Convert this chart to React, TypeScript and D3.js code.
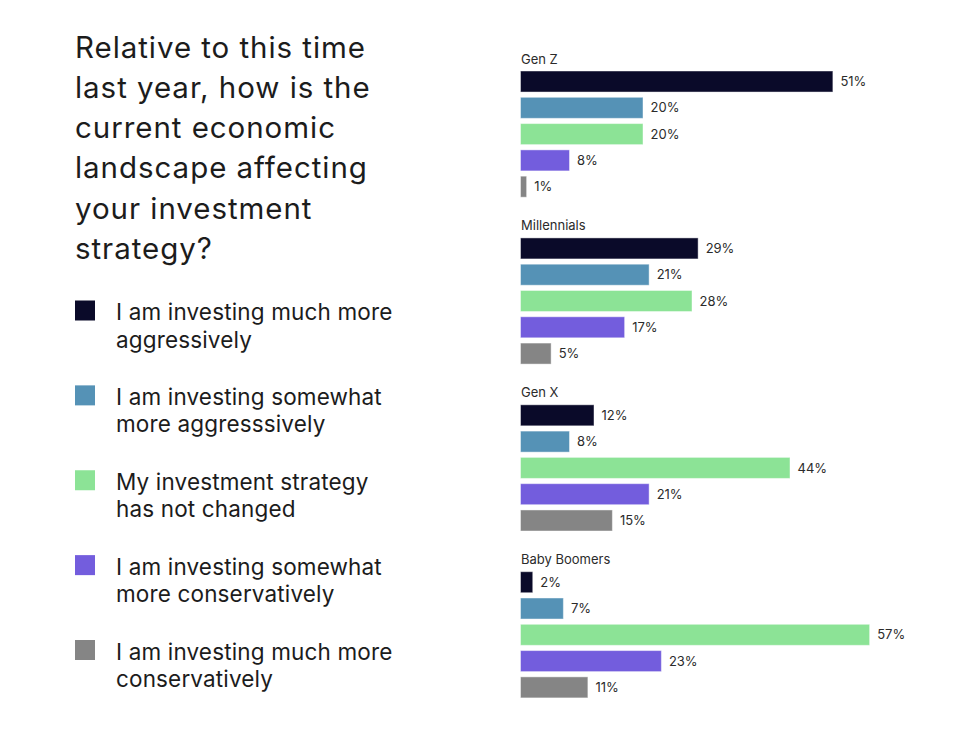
import { useEffect, useRef } from "react";
import * as d3 from "d3";

const WIDTH = 968;
const HEIGHT = 732;

const TITLE_LINES = [
    "Relative to this time",
    "last year, how is the",
    "current economic",
    "landscape affecting",
    "your investment",
    "strategy?",
];

const RESPONSES = [
    "I am investing much more aggressively",
    "I am investing somewhat more aggresssively",
    "My investment strategy has not changed",
    "I am investing somewhat more conservatively",
    "I am investing much more conservatively",
];

const LEGEND_LINES = [
    [ "I am investing much more", "aggressively" ],
    [ "I am investing somewhat", "more aggresssively" ],
    [ "My investment strategy", "has not changed" ],
    [ "I am investing somewhat", "more conservatively" ],
    [ "I am investing much more", "conservatively" ],
];

const COLORS = [ "#0a0a29", "#5592b6", "#8ce396", "#735ddd", "#858585" ];

const GENERATIONS = [ "Gen Z", "Millennials", "Gen X", "Baby Boomers" ];

const GEN_Z = [ 51, 20, 20, 8, 1 ];
const MILLENNIALS = [ 29, 21, 28, 17, 5 ];
const GEN_X = [ 12, 8, 44, 21, 15 ];
const BABY_BOOMERS = [ 2, 7, 57, 23, 11 ];

const SERIES = [ GEN_Z, MILLENNIALS, GEN_X, BABY_BOOMERS ];

const FONT = "Inter, 'Noto Sans', sans-serif";

export default function App ()
{
    const svgRef = useRef<SVGSVGElement>( null );

    useEffect( () =>
    {
        if ( !svgRef.current ) return;
        const svg = d3.select( svgRef.current );
        svg.selectAll( "*" ).remove();

        svg.append( "rect" ).attr( "width", WIDTH ).attr( "height", HEIGHT ).attr( "fill", "#fff" );

        // Title
        const title = svg.append( "text" )
            .attr( "fill", "#1c1c1c" ).style( "font-family", FONT ).style( "font-size", "29.5px" )
            .style( "letter-spacing", "0.95px" );
        TITLE_LINES.forEach( ( line, i ) =>
        {
            title.append( "tspan" ).attr( "x", 75 ).attr( "y", 57.5 + i * 40.3 ).text( line );
        } );

        // Legend
        const legendY = d3.scaleLinear().domain( [ 0, 4 ] ).range( [ 300.5, 640 ] );
        const legend = svg.append( "g" );
        RESPONSES.forEach( ( _, i ) =>
        {
            const y = legendY( i );
            legend.append( "rect" ).attr( "x", 75 ).attr( "y", y ).attr( "width", 20 ).attr( "height", 20 )
                .attr( "fill", COLORS[ i ] );
            const t = legend.append( "text" ).attr( "fill", "#1c1c1c" )
                .style( "font-family", FONT ).style( "font-size", "22.5px" ).style( "letter-spacing", "0.15px" );
            LEGEND_LINES[ i ].forEach( ( line, j ) =>
            {
                t.append( "tspan" ).attr( "x", 116 ).attr( "y", y + 19.8 + j * 27.3 ).text( line );
            } );
        } );

        // Bars
        const x = d3.scaleLinear().domain( [ 0, 100 ] ).range( [ 520.5, 520.5 + 612.5 ] );
        const groupY = d3.scaleLinear().domain( [ 0, 3 ] ).range( [ 71, 71 + 3 * 166.9 ] );
        const barY = d3.scaleBand<number>().domain( d3.range( RESPONSES.length ) )
            .range( [ 0, 126.2 ] ).paddingInner( 0.2 ).paddingOuter( 0 );

        GENERATIONS.forEach( ( gen, gi ) =>
        {
            const g = svg.append( "g" ).attr( "transform", `translate(0,${ groupY( gi ) })` );

            g.append( "text" ).attr( "x", 521 ).attr( "y", -7.5 )
                .attr( "fill", "#2b2b2b" ).style( "font-family", FONT ).style( "font-size", "13px" )
                .text( gen );

            const values = SERIES[ gi ];
            g.selectAll( "rect.bar" ).data( values ).join( "rect" ).attr( "class", "bar" )
                .attr( "x", x( 0 ) )
                .attr( "y", ( _, i ) => barY( i )! )
                .attr( "width", ( d ) => x( d ) - x( 0 ) )
                .attr( "height", barY.bandwidth() )
                .attr( "fill", ( _, i ) => COLORS[ i ] )
                .attr( "stroke", "rgba(255,255,255,0.45)" ).attr( "stroke-width", 1 );

            g.selectAll( "text.val" ).data( values ).join( "text" ).attr( "class", "val" )
                .attr( "x", ( d ) => x( d ) + 7.5 )
                .attr( "y", ( _, i ) => barY( i )! + barY.bandwidth() / 2 )
                .attr( "dy", "0.36em" )
                .attr( "fill", "#2b2b2b" ).style( "font-family", FONT ).style( "font-size", "13px" )
                .text( ( d ) => `${ d }%` );
        } );
    }, [] );

    return (
        <div style={ { position: "fixed", left: 0, top: 0, width: WIDTH, height: HEIGHT, background: "#fff" } }>
            <svg ref={ svgRef } width={ WIDTH } height={ HEIGHT } />
        </div>
    );
}
